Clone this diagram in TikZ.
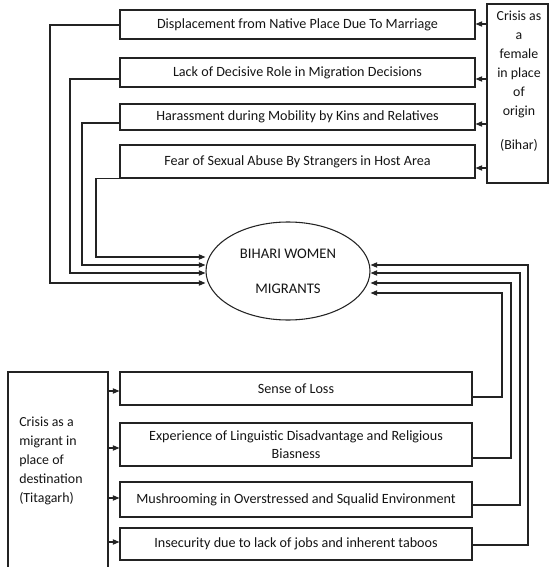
\documentclass[tikz,border=0pt]{standalone}
\usepackage{fontspec}
\setmainfont{Carlito}
\usepackage{tikz}
\usepackage{xcolor}
\usetikzlibrary{positioning, arrows.meta, shapes.geometric}
\definecolor{lnblack}{RGB}{35, 35, 35}
\definecolor{txblack}{RGB}{20, 20, 20}
\tikzset{
    crisisbox/.style={rectangle, draw=lnblack, line width=0.8pt, inner sep=0pt, text=txblack, font=\fontsize{10.6}{13.5}\selectfont},
    topbox/.style={crisisbox, minimum width=266.25pt},
    lowbox/.style={crisisbox, minimum width=264pt, align=center},
    sidetext/.style={inner sep=0pt, text=txblack, font=\fontsize{10.4}{14.25}\selectfont},
    womennode/.style={ellipse, draw=lnblack, line width=0.8pt, inner sep=0pt, minimum width=123pt, minimum height=73.5pt, text=txblack, align=center, font=\fontsize{11}{26}\selectfont},
    link/.style={draw=lnblack, line width=0.8pt, -{Triangle[length=5pt, width=4pt]}}
}

\begin{document}
\begin{tikzpicture}[x=0.75pt, y=-0.75pt]
                    \useasboundingbox (0,0) rectangle (549,567);
                    % place of origin
                    \node[crisisbox, minimum width=45.75pt, minimum height=134.25pt] (origin) at (517.5,93.5) {};
                    \node[sidetext, anchor=north, align=center] (originlbl) at (519,11) {Crisis as\\a\\female\\in place\\of\\origin\\[11pt](Bihar)};
                    \node[topbox, minimum height=21.75pt] (displace) at (297.5,24.5) {Displacement from Native Place Due To Marriage};
                    \node[topbox, minimum height=21.75pt] (decision) at (297.5,72.5) {Lack of Decisive Role in Migration Decisions};
                    \node[topbox, minimum height=19.5pt] (harass) at (297.5,117) {Harassment during Mobility by Kins and Relatives};
                    \node[topbox, minimum height=24.75pt] (abuse) at (297.5,161.5) {Fear of Sexual Abuse By Strangers in Host Area};
                    
                    \node[womennode] (women) at (288,271) {BIHARI WOMEN\\MIGRANTS};
                    
                    % place of destination
                    \node[crisisbox, minimum width=75pt, minimum height=159.75pt] (dest) at (58,478.5) {};
                    \node[sidetext, anchor=west, align=left] (destlbl) at (19,461) {Crisis as a\\migrant in\\place of\\destination\\(Titagarh)};
                    \node[lowbox, minimum height=24.75pt] (loss) at (296,388.5) {Sense of Loss};
                    \node[lowbox, minimum height=32.25pt] (lingual) at (296,444.5) {Experience of Linguistic Disadvantage and Religious\\Biasness};
                    \node[lowbox, minimum height=26.25pt] (squalid) at (296,499.5) {Mushrooming in Overstressed and Squalid Environment};
                    \node[lowbox, minimum height=24pt] (taboo) at (296,544) {Insecurity due to lack of jobs and inherent taboos};
                    
                    \draw[link] (origin.west |- 0,24) -- (displace.east |- 0,24);
                    \draw[link] (origin.west |- 0,79) -- (decision.east |- 0,79);
                    \draw[link] (origin.west |- 0,124) -- (harass.east |- 0,124);
                    \draw[link] (origin.west |- 0,168) -- (abuse.east |- 0,168);
                    
                    \draw[link] (displace.west |- 0,25) -| (50,283) -- (women.west |- 0,283);
                    \draw[link] (decision.west |- 0,79) -| (70,273) -- (women.west |- 0,273);
                    \draw[link] (harass.west |- 0,123) -| (82,265) -- (women.west |- 0,265);
                    \draw[link] (abuse.south west) -| (96,257) -- (women.west |- 0,257);
                    
                    \draw[link] (dest.east |- 0,391) -- (loss.west |- 0,391);
                    \draw[link] (dest.east |- 0,448) -- (lingual.west |- 0,448);
                    \draw[link] (dest.east |- 0,498) -- (squalid.west |- 0,498);
                    \draw[link] (dest.east |- 0,542) -- (taboo.west |- 0,542);
                    
                    \draw[link] (loss.east |- 0,397) -| (502,293) -- (women.east |- 0,293);
                    \draw[link] (lingual.east |- 0,458) -| (511,283) -- (women.east |- 0,283);
                    \draw[link] (squalid.east |- 0,505) -| (520,273) -- (women.east |- 0,273);
                    \draw[link] (taboo.east |- 0,545) -| (528,265) -- (women.east |- 0,265);
                \end{tikzpicture}
\end{document}
